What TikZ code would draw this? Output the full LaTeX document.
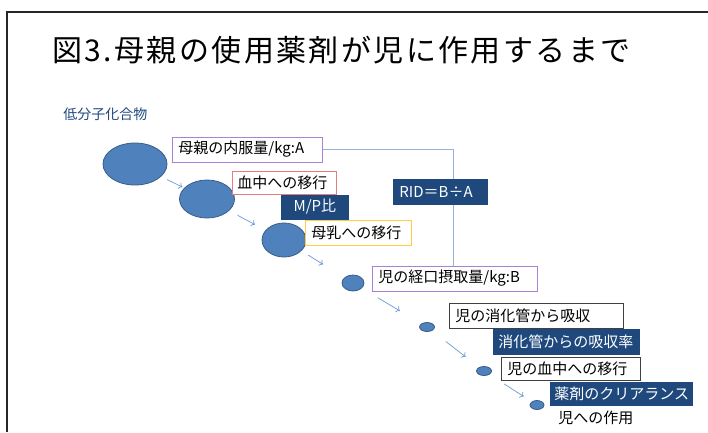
\documentclass[tikz,border=0pt]{standalone}
\usepackage{fontspec}
\setmainfont{Noto Sans CJK JP}
\usepackage{xcolor}
\usepackage{tikz}
\usetikzlibrary{shapes.geometric}
\usetikzlibrary{arrows.meta}
\definecolor{navy}{HTML}{1F497D}
\definecolor{drugfill}{HTML}{4F81BD}
\definecolor{drugline}{HTML}{385D8A}
\definecolor{lilac}{HTML}{A982D3}
\definecolor{rose}{HTML}{E37E7E}
\definecolor{gold}{HTML}{FFCC44}
\definecolor{linkblue}{HTML}{95B3D7}
\definecolor{flowblue}{HTML}{6A9AD6}

\begin{document}
\begin{tikzpicture}[x=1pt,y=-1pt,line width=0.8pt,
  drug/.style={ellipse,draw=drugline,fill=drugfill,inner sep=0pt},
  stagebox/.style={anchor=west,draw,fill=white,inner xsep=6pt,inner ysep=0pt,
    align=left,font=\fontsize{15}{17}\selectfont},
  factor/.style={stagebox,draw=navy,fill=navy,text=white},
  flow/.style={-{To[length=3.5pt,width=7pt]},flowblue,line width=0.7pt},
  link/.style={linkblue,line width=0.8pt}]
\useasboundingbox (0,0) rectangle (708,432);
% slide frame
\draw[line width=1.5pt,black!85] (7,432) -- (7,12) -- (708,12);
\node[anchor=west,inner sep=0pt,font=\fontsize{30}{34}\selectfont\addfontfeature{LetterSpace=8}] at (52,50) (title){図3.母親の使用薬剤が児に作用するまで};
\node[anchor=west,inner sep=0pt,text=navy,font=\fontsize{14}{16}\selectfont] at (63,114.5) (kind){低分子化合物};

  \node[drug,minimum width=64pt,minimum height=42pt] at (135,164) (d1){};
  \node[drug,minimum width=55pt,minimum height=38pt] at (207,199) (d2){};
  \node[drug,minimum width=44pt,minimum height=34pt] at (284,240) (d3){};
  \node[drug,minimum width=22pt,minimum height=16pt] at (353,283) (d4){};
  \node[drug,minimum width=15pt,minimum height=9pt] at (427,327) (d5){};
  \node[drug,minimum width=15pt,minimum height=9pt] at (484,371) (d6){};
  \node[drug,minimum width=14pt,minimum height=9pt] at (537,405) (d7){};

  \draw[flow,shorten <=6.5pt,shorten >=2pt] (d1) -- (d2);
  \draw[flow,shorten <=9.5pt,shorten >=12pt] (d2) -- (d3);
  \draw[flow,shorten <=8pt,shorten >=25pt] (d3) -- (d4);
  \draw[flow,shorten <=18.5pt,shorten >=25pt] (d4) -- (d5);
  \draw[flow,shorten <=17.5pt,shorten >=17pt] (d5) -- (d6);
  \draw[flow,shorten <=17.5pt,shorten >=9.5pt] (d6) -- (d7);

  \node[stagebox,draw=lilac,text width=138pt,minimum height=25pt] at (172,149.5) (amt){母親の内服量/kg:A};
  \node[stagebox,draw=rose,text width=94pt,minimum height=23pt,inner xsep=5pt] at (232,182.5) (blood){血中への移行};
  \node[factor,text width=55pt,minimum height=24pt,align=center] at (281,207) (mp){M/P比};
  \node[stagebox,draw=gold,text width=94pt,minimum height=25pt] at (305,232.5) (milk){母乳への移行};
  \node[stagebox,draw=lilac,text width=153pt,minimum height=25pt] at (372,278.5) (intake){児の経口摂取量/kg:B};
  \draw[link] (amt.east) -| ([xshift=-2pt]intake.north);
  \node[factor,text width=82pt,minimum height=25pt] at (393,191.5) (rid){RID＝B÷A};

  \node[stagebox,draw=black!75,text width=162pt,minimum height=25pt] at (449,315.5) (absorb){児の消化管から吸収};
  \node[factor,text width=136pt,minimum height=25pt,inner xsep=5pt] at (493,341.5) (rate){消化管からの吸収率};
  \node[stagebox,draw=black!75,text width=127pt,minimum height=23pt] at (501,368.5) (cblood){児の血中への移行};
  \node[factor,text width=134pt,minimum height=23pt,inner xsep=4pt] at (550,393.5) (clear){薬剤のクリアランス};
  \node[anchor=west,inner sep=0pt,font=\fontsize{15}{17}\selectfont] at (558,417.5) (effect){児への作用};
\end{tikzpicture}
\end{document}
